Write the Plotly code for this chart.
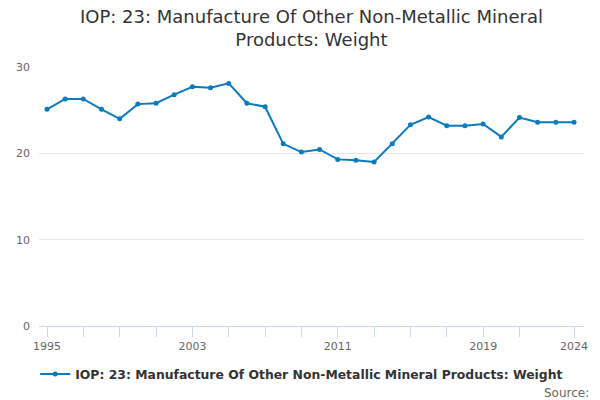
import plotly.graph_objects as go

years = list(range(1995, 2025))
values = [25.1, 26.3, 26.3, 25.1, 24.0, 25.7, 25.8, 26.8, 27.7, 27.6,
          28.1, 25.8, 25.4, 21.1, 20.15, 20.45, 19.3, 19.2, 19.0, 21.1,
          23.3, 24.2, 23.2, 23.2, 23.4, 21.9, 24.15, 23.6, 23.6, 23.6]
series_name = "IOP: 23: Manufacture Of Other Non-Metallic Mineral Products: Weight"
title_text = "IOP: 23: Manufacture Of Other Non-Metallic Mineral<br>Products: Weight"
x_tickvals = list(range(1995, 2022, 2)) + [2024]
x_labels = {1995: "1995", 2003: "2003", 2011: "2011", 2019: "2019", 2024: "2024"}
y_tickvals = [0, 10, 20, 30]

color = "#0b7bc0"
font = "DejaVu Sans"

fig = go.Figure()
fig.add_trace(go.Scatter(
    x=years, y=values, mode="lines+markers", name="<b>" + series_name + "</b>",
    line=dict(color=color, width=2),
    marker=dict(color=color, size=5),
    showlegend=True,
))

fig.update_layout(
    width=600, height=400,
    paper_bgcolor="white", plot_bgcolor="white",
    font=dict(family=font, color="#333333"),
    margin=dict(l=39, r=16, t=67, b=73),
    xaxis=dict(
        range=[1994.56, 2024.55],
        tickvals=x_tickvals,
        ticktext=[x_labels.get(v, "") for v in x_tickvals],
        showgrid=False, zeroline=False,
        showline=True, linecolor="#ccd6eb", linewidth=1,
        ticks="outside", ticklen=10, tickcolor="#ccd6eb",
        tickfont=dict(size=11, color="#666666", family=font),
    ),
    yaxis=dict(
        range=[0, 30],
        tickvals=y_tickvals,
        showgrid=True, gridcolor="#e6e6e6", gridwidth=1,
        zeroline=False, showline=False,
        ticks="", ticklabelstandoff=8,
        tickfont=dict(size=11, color="#666666", family=font),
    ),
    legend=dict(orientation="h", x=0.482, xanchor="center", y=-0.125, yanchor="top",
                font=dict(size=12.4, color="#333333", family=font),
                itemwidth=30),
    annotations=[
        dict(text=title_text, xref="paper", yref="paper",
             x=0.5, y=1.243, xanchor="center", yanchor="top",
             showarrow=False, align="center",
             font=dict(size=18, color="#333333", family=font)),
        dict(text="Source:", xref="paper", yref="paper",
             x=1.013, y=-0.225, xanchor="right", yanchor="top",
             showarrow=False,
             font=dict(size=12, color="#666666", family=font)),
    ],
)

fig.write_html("out.html", config={"displayModeBar": False},
               post_script="document.body.style.margin='0';document.body.style.padding='0';")
